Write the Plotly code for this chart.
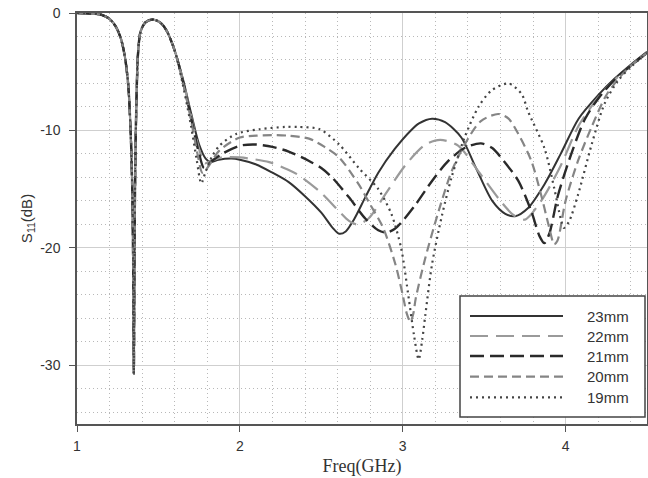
import plotly.graph_objects as go

# ---------------- data ----------------
front_f = [1.00, 1.05, 1.10, 1.15, 1.20, 1.24, 1.27, 1.295, 1.315, 1.33, 1.34, 1.346,
           1.349, 1.352, 1.357, 1.365, 1.375, 1.39, 1.42, 1.465, 1.51, 1.55, 1.60]
front_s = [0.0, -0.02, -0.06, -0.15, -0.5, -1.2, -2.2, -3.8, -6.2, -10.3, -15.5, -23.0,
           -30.7, -23.0, -14.0, -7.5, -3.4, -1.6, -0.8, -0.55, -0.8, -1.5, -3.2]

f23 = [1.65, 1.70, 1.75, 1.79, 1.82, 1.87, 1.95, 2.0, 2.1, 2.2, 2.3, 2.4, 2.5, 2.57, 2.61,
       2.65, 2.7, 2.77, 2.85, 2.95, 3.05, 3.1, 3.18, 3.26, 3.36, 3.45, 3.55, 3.63, 3.69,
       3.77, 3.87, 3.97, 4.08, 4.2, 4.3, 4.4, 4.5]
s23 = [-5.6, -8.5, -11.2, -12.4, -12.7, -12.5, -12.4, -12.5, -12.9, -13.6, -14.4, -15.6,
       -17.0, -18.3, -18.8, -18.6, -17.6, -15.7, -13.6, -11.6, -10.0, -9.4, -9.0, -9.3,
       -10.6, -13.2, -16.0, -17.1, -17.3, -16.6, -14.6, -12.0, -9.0, -7.0, -5.6, -4.4, -3.3]

f22 = [1.65, 1.70, 1.75, 1.785, 1.82, 1.89, 2.0, 2.06, 2.18, 2.29, 2.36, 2.49, 2.61, 2.67,
       2.72, 2.79, 2.89, 3.02, 3.14, 3.23, 3.34, 3.465, 3.6, 3.68, 3.75, 3.85, 3.97, 4.08,
       4.2, 4.3, 4.4, 4.5]
s22 = [-5.7, -8.7, -11.6, -12.8, -12.6, -12.3, -12.3, -12.4, -12.7, -13.3, -13.8, -15.2,
       -16.9, -17.7, -18.0, -17.5, -15.5, -12.9, -11.2, -10.8, -11.3, -13.5, -16.0, -17.2,
       -17.6, -16.0, -13.0, -9.6, -7.2, -5.7, -4.5, -3.4]

f21 = [1.65, 1.70, 1.75, 1.78, 1.82, 1.89, 2.0, 2.1, 2.2, 2.3, 2.425, 2.5, 2.566, 2.67,
       2.77, 2.85, 2.90, 2.95, 3.0, 3.08, 3.18, 3.28, 3.38, 3.48, 3.55, 3.62, 3.71, 3.79,
       3.84, 3.87, 3.9, 3.954, 4.04, 4.12, 4.2, 4.3, 4.4, 4.5]
s21 = [-5.8, -8.9, -12.0, -13.2, -12.7, -12.0, -11.3, -11.2, -11.4, -11.8, -12.6, -13.2,
       -14.0, -15.7, -17.5, -18.5, -18.7, -18.4, -17.7, -16.3, -14.3, -12.6, -11.5, -11.1,
       -11.5, -12.6, -14.3, -16.9, -19.0, -19.6, -18.8, -15.5, -11.8, -9.0, -7.3, -5.7,
       -4.5, -3.4]

f20 = [1.65, 1.70, 1.74, 1.77, 1.80, 1.875, 2.0, 2.1, 2.2, 2.3, 2.425, 2.52, 2.61, 2.73,
       2.8, 2.88, 2.955, 3.0, 3.025, 3.047, 3.065, 3.08, 3.14, 3.22, 3.30, 3.38, 3.48,
       3.587, 3.65, 3.71, 3.79, 3.85, 3.9, 3.93, 3.95, 4.0, 4.076, 4.16, 4.25, 4.35,
       4.45, 4.5]
s20 = [-5.9, -9.1, -12.0, -13.6, -13.2, -11.7, -10.6, -10.45, -10.4, -10.45, -10.7, -11.4,
       -12.3, -14.6, -16.3, -18.3, -21.4, -24.0, -25.6, -26.3, -25.6, -24.3, -20.8, -16.9,
       -13.5, -11.2, -9.2, -8.6, -9.0, -10.3, -12.6, -15.5, -18.3, -19.7, -19.4, -16.0,
       -12.6, -9.7, -7.0, -5.2, -3.9, -3.4]

f19 = [1.65, 1.70, 1.735, 1.763, 1.79, 1.83, 1.875, 1.977, 2.12, 2.28, 2.36, 2.49, 2.61,
       2.73, 2.85, 2.93, 2.99, 3.037, 3.07, 3.098, 3.12, 3.139, 3.18, 3.24, 3.30, 3.38,
       3.465, 3.545, 3.65, 3.73, 3.77, 3.87, 3.93, 3.97, 3.99, 4.02, 4.076, 4.16, 4.24,
       4.32, 4.4, 4.5]
s19 = [-6.1, -9.6, -12.5, -14.5, -13.5, -12.2, -11.3, -10.3, -9.9, -9.7, -9.7, -9.9, -11.2,
       -13.2, -15.0, -17.1, -20.0, -24.3, -27.5, -29.5, -27.8, -25.7, -21.4, -17.3, -14.0,
       -10.6, -8.0, -6.6, -6.0, -6.9, -8.4, -11.5, -14.9, -17.5, -18.3, -17.8, -15.5,
       -11.2, -7.7, -5.8, -4.6, -3.4]

labels = ["23mm", "22mm", "21mm", "20mm", "19mm"]
series_f = [f23, f22, f21, f20, f19]
series_s = [s23, s22, s21, s20, s19]

x_ticks = [1, 2, 3, 4]
y_ticks = [0, -10, -20, -30]
y_ticktext = ["0", "-10", "-20", "-30"]

# ---------------- styles ----------------
colors = ["#333333", "#9a9a9a", "#2a2a2a", "#858585", "#444444"]
dashes = ["solid", "18px,8px", "14px,6px", "9px,5px", "2px,4px"]
widths = [2.0, 2.2, 2.4, 2.2, 2.2]

fig = go.Figure()
for lab, fx, sy, c, d, w in zip(labels, series_f, series_s, colors, dashes, widths):
    fig.add_trace(go.Scatter(
        x=front_f + fx, y=front_s + sy, mode="lines", name=lab,
        line=dict(color=c, dash=d, width=w, shape="spline", smoothing=0.8),
        showlegend=False))

W, H = 648, 478
L, R, T, B = 77, 1, 13, 54
pw, ph = W - L - R, H - T - B

def px2x(px):
    return (px - L) / pw

def py2y(py):
    return 1 - (py - T) / ph

shapes = [dict(type="rect", xref="paper", yref="paper",
               x0=px2x(460), x1=px2x(645), y0=py2y(417), y1=py2y(296),
               line=dict(color="#444", width=1.5), fillcolor="white", layer="above")]
annotations = []
rows = [316, 336, 356, 376.7, 397.3]
for lab, c, d, w, ry in zip(labels, colors, dashes, widths, rows):
    shapes.append(dict(type="line", xref="paper", yref="paper",
                       x0=px2x(470), x1=px2x(563), y0=py2y(ry), y1=py2y(ry),
                       line=dict(color=c, dash=d, width=w), layer="above"))
    annotations.append(dict(xref="paper", yref="paper", x=px2x(585), y=py2y(ry),
                            text=lab, showarrow=False, xanchor="left", yanchor="middle",
                            font=dict(family="Liberation Sans, Arial", size=15, color="#333")))

fig.update_layout(
    width=W, height=H,
    margin=dict(l=L, r=R, t=T, b=B),
    paper_bgcolor="white", plot_bgcolor="white",
    shapes=shapes, annotations=annotations,
    font=dict(family="Liberation Sans, Arial", size=14, color="#333"),
)
minor_grid = dict(showgrid=True, gridcolor="#b8b8b8", griddash="1px,3px", gridwidth=1)
fig.update_xaxes(
    range=[1, 4.5], tickvals=x_ticks, ticktext=[str(v) for v in x_ticks],
    showline=True, linecolor="#555", linewidth=1.5, mirror=True,
    ticks="outside", ticklen=6, tickcolor="#555", tickwidth=1.2,
    ticklabelstandoff=2, ticklabeloverflow="allow",
    showgrid=True, gridcolor="#cfcfcf", gridwidth=1,
    minor=dict(dtick=0.2, tick0=1, **minor_grid),
    zeroline=False, automargin=False,
    tickfont=dict(family="Liberation Sans, Arial", size=14, color="#333"),
    title=dict(text="Freq(GHz)", standoff=7,
               font=dict(family="Liberation Serif, Times New Roman", size=18, color="#333")),
)
fig.update_yaxes(
    range=[-35, 0], tickvals=y_ticks, ticktext=y_ticktext,
    showline=True, linecolor="#555", linewidth=1.5, mirror=True,
    ticks="outside", ticklen=6, tickcolor="#555", tickwidth=1.2,
    ticklabelstandoff=6, ticklabeloverflow="allow",
    showgrid=True, gridcolor="#cfcfcf", gridwidth=1,
    minor=dict(dtick=2, tick0=0, **minor_grid),
    zeroline=False, automargin=False,
    tickfont=dict(family="Liberation Sans, Arial", size=14, color="#333"),
    title=dict(text="S<sub>11</sub>(dB)", standoff=4,
               font=dict(family="Liberation Sans, Arial", size=15, color="#333")),
)

fig.write_html("out.html", config={"displayModeBar": False},
               post_script="document.body.style.margin='0';"
                           "document.documentElement.style.overflow='hidden';")
